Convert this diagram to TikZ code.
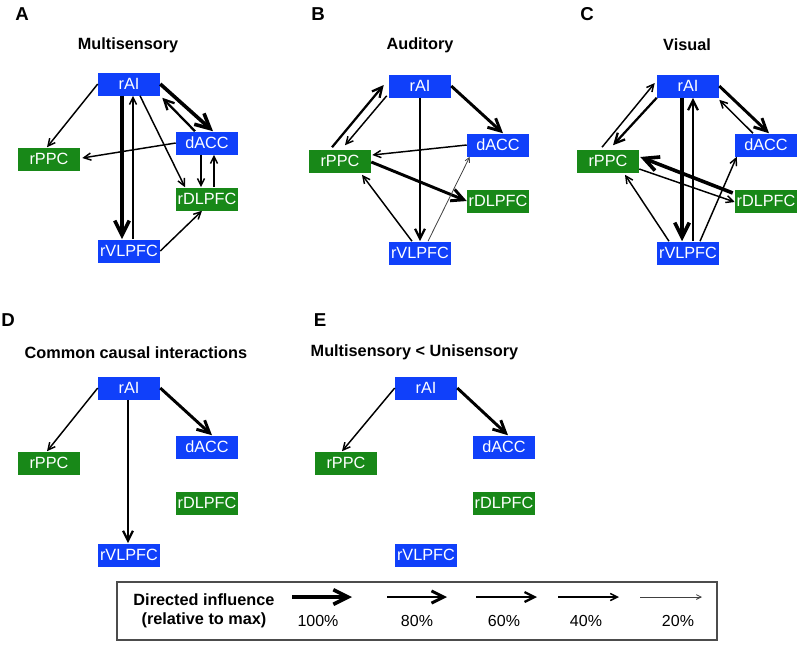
\documentclass[tikz,border=0pt]{standalone}
\usepackage{fontspec}
\setmainfont{Liberation Sans}
\usetikzlibrary{arrows.meta,calc}
\definecolor{roiblue}{RGB}{16,64,250}
\definecolor{roigreen}{RGB}{24,136,24}

\begin{document}
\begin{tikzpicture}[x=0.75pt, y=-0.75pt,
    box/.style = {inner sep=0pt, minimum width=46.5pt, minimum height=17.25pt, text=white, font=\fontsize{12.2pt}{14pt}\selectfont},
    bluebox/.style = {box, fill=roiblue},
    greenbox/.style = {box, fill=roigreen},
    letter/.style = {font=\fontsize{14pt}{16pt}\selectfont\bfseries},
    title/.style = {font=\fontsize{12.2pt}{14pt}\selectfont\bfseries},
    pct/.style = {font=\fontsize{12pt}{14pt}\selectfont},
    infl/.style = {-{Straight Barb[length=1.5pt 3.5, width=1.5pt 3.5]}},
    p100/.style = {infl, line width=2.7pt},
    p80/.style = {infl, line width=2.2pt},
    p60/.style = {infl, line width=1.7pt},
    p40/.style = {infl, line width=1.1pt},
    p20/.style = {infl, line width=0.6pt, black!75}]
            \useasboundingbox (0,0) rectangle (800,644);

            \foreach \p/\x/\y in {a/129/84, b/420/86, c/688/86, d/129/388, e/426/388} {
                \node[bluebox] (\p-rAI) at (\x,\y) {rAI};
                \node[bluebox] (\p-dACC) at (\x+78,\y+59) {dACC};
                \node[greenbox] (\p-rPPC) at (\x-80,\y+75) {rPPC};
                \node[greenbox] (\p-rDLPFC) at (\x+78,\y+115) {rDLPFC};
                \node[bluebox] (\p-rVLPFC) at (\x,\y+167) {rVLPFC};
            }

            \node[letter] (A) at (22,14) {A};
            \node[letter] (B) at (318,14) {B};
            \node[letter] (C) at (587,14) {C};
            \node[letter] (D) at (8,320) {D};
            \node[letter] (E) at (320,320) {E};

            \node[title] (multi) at (128,45) {Multisensory};
            \node[title] (audi) at (420,45) {Auditory};
            \node[title] (visu) at (687,45) {Visual};
            \node[title, anchor=west] (common) at (20,353) {Common causal interactions};
            \node[title, anchor=west] (less) at (306,352) {Multisensory < Unisensory};

            \draw[p40] (a-rAI.west) -- ($(a-rPPC.north)+(-2,0)$);
            \draw[p100] ($(a-rAI.south)+(-7,0)$) -- ($(a-rVLPFC.north)+(-7,0)$);
            \draw[p40] ($(a-rVLPFC.north)+(4,0)$) -- ($(a-rAI.south)+(4,0)$);
            \draw[p100] (a-rAI.east) -- ($(a-dACC.north)+(6,0)$);
            \draw[p60] ($(a-dACC.north)+(-12,0)$) -- ($(a-rAI.south east)+(2,2)$);
            \draw[p40] ($(a-rAI.south)+(11,0)$) -- ($(a-rDLPFC.north)+(-22,0)$);
            \draw[p40] (a-dACC.west) -- ($(a-rPPC.east)+(2,-1)$);
            \draw[p40] ($(a-dACC.south)+(-6,0)$) -- ($(a-rDLPFC.north)+(-6,0)$);
            \draw[p40] ($(a-rDLPFC.north)+(7,0)$) -- ($(a-dACC.south)+(7,0)$);
            \draw[p40] (a-rVLPFC.east) -- ($(a-rDLPFC.south)+(-5,0)$);

            \draw[p60] ($(b-rPPC.north)+(-8,-2)$) -- ($(b-rAI.west)+(-5,-1)$);
            \draw[p40] ($(b-rAI.south west)+(-2,-2)$) -- ($(b-rPPC.north)+(5,-4)$);
            \draw[p80] (b-rAI.east) -- ($(b-dACC.north)+(5,0)$);
            \draw[p60] (b-rAI.south) -- (b-rVLPFC.north);
            \draw[p40] (b-dACC.west) -- ($(b-rPPC.east)+(1,-6)$);
            \draw[p80] ($(b-rPPC.east)+(0,1)$) -- (b-rDLPFC.west);
            \draw[p40] ($(b-rVLPFC.north)+(-8,0)$) -- ($(b-rPPC.south)+(22,2)$);
            \draw[p20] ($(b-rVLPFC.north)+(8,0)$) -- ($(b-dACC.south west)+(3,0)$);

            \draw[p40] ($(c-rPPC.north)+(-6,-2)$) -- ($(c-rAI.west)+(-2,-3)$);
            \draw[p60] (c-rAI.south west) -- ($(c-rPPC.north)+(5,-4)$);
            \draw[p100] ($(c-rAI.south)+(-6,0)$) -- ($(c-rVLPFC.north)+(-6,0)$);
            \draw[p60] ($(c-rVLPFC.north)+(5,0)$) -- ($(c-rAI.south)+(5,0)$);
            \draw[p80] (c-rAI.east) -- ($(c-dACC.north)+(3,0)$);
            \draw[p40] ($(c-dACC.north)+(-13,0)$) -- ($(c-rAI.south east)+(0,2)$);
            \draw[p100] ($(c-rDLPFC.west)+(-2,-8)$) -- ($(c-rPPC.east)+(1,-4)$);
            \draw[p40] ($(c-rPPC.east)+(0,8)$) -- ($(c-rDLPFC.west)+(0,1)$);
            \draw[p40] ($(c-rVLPFC.north)+(-19,0)$) -- ($(c-rPPC.south)+(17,2)$);
            \draw[p40] ($(c-rVLPFC.north)+(12,0)$) -- ($(c-dACC.south west)+(2,0)$);

            \draw[p40] (d-rAI.west) -- ($(d-rPPC.north)+(-2,0)$);
            \draw[p60] ($(d-rAI.south)+(-1,0)$) -- ($(d-rVLPFC.north)+(-1,0)$);
            \draw[p80] (d-rAI.east) -- ($(d-dACC.north)+(5,0)$);

            \draw[p40] (e-rAI.west) -- ($(e-rPPC.north)+(-4,0)$);
            \draw[p80] (e-rAI.east) -- ($(e-dACC.north)+(4,0)$);

            \draw[black!70, line width=0.9pt] (117,582) rectangle (717,640);
            \node[title, align=center] (key) at (204,611) {Directed influence\\(relative to max)};

            \node[pct] (l100) at (318,621) {100\%};
            \node[pct] (l80) at (417,621) {80\%};
            \node[pct] (l60) at (504,621) {60\%};
            \node[pct] (l40) at (586,621) {40\%};
            \node[pct] (l20) at (678,621) {20\%};
            \coordinate (s100) at (292,597); \coordinate (t100) at (352,597);
            \coordinate (s80) at (387,597); \coordinate (t80) at (447,597);
            \coordinate (s60) at (476,597); \coordinate (t60) at (537,597);
            \coordinate (s40) at (558,597); \coordinate (t40) at (619,597);
            \coordinate (s20) at (640,597); \coordinate (t20) at (702,597);
            \draw[p100] (s100) -- (t100);
            \draw[p80] (s80) -- (t80);
            \draw[p60] (s60) -- (t60);
            \draw[p40] (s40) -- (t40);
            \draw[p20] (s20) -- (t20);
        \end{tikzpicture}
\end{document}
